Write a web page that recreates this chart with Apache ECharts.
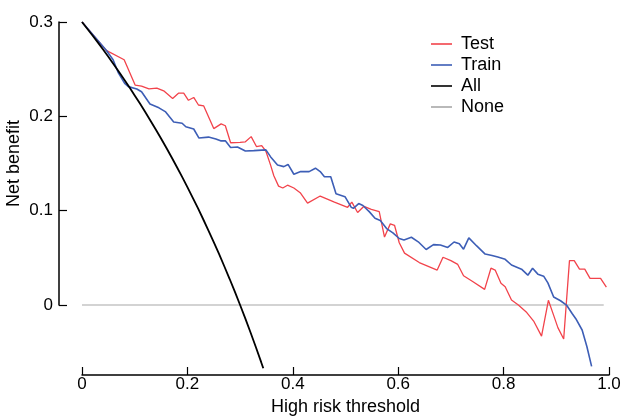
<!DOCTYPE html>
<html>
<head>
<meta charset="utf-8">
<script src="https://cdn.jsdelivr.net/npm/echarts@6/dist/echarts.min.js"></script>
<style>
html,body{margin:0;padding:0;background:#fff;}
#chart{width:623px;height:417px;}
</style>
</head>
<body>
<div id="chart"></div>
<script>
// Series names (legend order)
const seriesNames = ['Test', 'Train', 'All', 'None'];

// Tick labels
const xTickLabels = ['0', '0.2', '0.4', '0.6', '0.8', '1.0'];
const yTickLabels = ['0', '0.1', '0.2', '0.3'];

// Test curve: [threshold, net benefit]
const testPoints = [
  [0, 0.300], [0.046, 0.270], [0.080, 0.260], [0.101, 0.233], [0.113, 0.232],
  [0.127, 0.229], [0.142, 0.230], [0.155, 0.227], [0.172, 0.219], [0.183, 0.2245],
  [0.193, 0.2245], [0.202, 0.217], [0.212, 0.220], [0.221, 0.212], [0.231, 0.211],
  [0.250, 0.187], [0.264, 0.192], [0.272, 0.190], [0.282, 0.172], [0.300, 0.1725],
  [0.310, 0.173], [0.321, 0.1785], [0.331, 0.168], [0.341, 0.169], [0.349, 0.163],
  [0.358, 0.148], [0.364, 0.137], [0.373, 0.126], [0.381, 0.124], [0.390, 0.127],
  [0.402, 0.124], [0.414, 0.119], [0.428, 0.108], [0.452, 0.1155], [0.479, 0.1090],
  [0.504, 0.1036], [0.512, 0.109], [0.523, 0.098], [0.535, 0.1046], [0.549, 0.1014],
  [0.564, 0.099], [0.574, 0.072], [0.585, 0.086], [0.593, 0.0845], [0.602, 0.066],
  [0.612, 0.055], [0.640, 0.045], [0.674, 0.037], [0.685, 0.0506], [0.700, 0.047],
  [0.713, 0.043], [0.724, 0.031], [0.742, 0.0247], [0.764, 0.0166], [0.776, 0.039],
  [0.784, 0.037], [0.795, 0.023], [0.803, 0.0194], [0.815, 0.0053], [0.828, 0.0],
  [0.844, -0.008], [0.857, -0.017], [0.872, -0.033], [0.885, 0.005], [0.895, -0.011],
  [0.903, -0.024], [0.914, -0.036], [0.925, 0.047], [0.934, 0.047], [0.944, 0.038],
  [0.954, 0.038], [0.964, 0.0283], [0.984, 0.0283], [0.995, 0.019]
];

// Train curve: [threshold, net benefit]
const trainPoints = [
  [0, 0.300], [0.046, 0.270], [0.059, 0.260], [0.069, 0.246], [0.081, 0.235],
  [0.088, 0.2315], [0.104, 0.229], [0.113, 0.226], [0.129, 0.213], [0.146, 0.209],
  [0.158, 0.205], [0.174, 0.194], [0.190, 0.1927], [0.197, 0.189], [0.212, 0.1866],
  [0.222, 0.177], [0.240, 0.178], [0.254, 0.176], [0.263, 0.174], [0.272, 0.174],
  [0.282, 0.167], [0.295, 0.1675], [0.310, 0.1633], [0.326, 0.1636], [0.349, 0.1644],
  [0.358, 0.157], [0.371, 0.1485], [0.383, 0.1467], [0.391, 0.149], [0.402, 0.1386],
  [0.415, 0.1414], [0.431, 0.1414], [0.443, 0.145], [0.452, 0.1414], [0.460, 0.136],
  [0.472, 0.136], [0.482, 0.118], [0.499, 0.1148], [0.511, 0.1035], [0.515, 0.1025],
  [0.525, 0.1075], [0.533, 0.1055], [0.545, 0.099], [0.556, 0.092], [0.566, 0.0895],
  [0.578, 0.081], [0.590, 0.0765], [0.602, 0.0705], [0.611, 0.069], [0.625, 0.0718],
  [0.638, 0.067], [0.653, 0.0588], [0.667, 0.064], [0.680, 0.0636], [0.694, 0.061],
  [0.706, 0.0668], [0.716, 0.065], [0.724, 0.0592], [0.734, 0.0712], [0.749, 0.0626],
  [0.765, 0.054], [0.778, 0.0525], [0.789, 0.0508], [0.803, 0.0484], [0.815, 0.0424],
  [0.834, 0.038], [0.846, 0.0316], [0.855, 0.0389], [0.865, 0.0327], [0.876, 0.0306],
  [0.884, 0.0235], [0.895, 0.0085], [0.908, 0.0045], [0.920, -0.0005], [0.930, -0.009],
  [0.937, -0.0145], [0.949, -0.0265], [0.958, -0.044], [0.967, -0.065]
];

// Treat-all curve: [threshold, net benefit]
const allPoints = [
  [0.00, 0.3000], [0.01, 0.2929], [0.02, 0.2857], [0.03, 0.2784], [0.04, 0.2708],
  [0.05, 0.2632], [0.06, 0.2553], [0.07, 0.2473], [0.08, 0.2391], [0.09, 0.2308],
  [0.10, 0.2222], [0.11, 0.2135], [0.12, 0.2045], [0.13, 0.1954], [0.14, 0.1860],
  [0.15, 0.1765], [0.16, 0.1667], [0.17, 0.1566], [0.18, 0.1463], [0.19, 0.1358],
  [0.20, 0.1250], [0.21, 0.1139], [0.22, 0.1026], [0.23, 0.0909], [0.24, 0.0789],
  [0.25, 0.0667], [0.26, 0.0541], [0.27, 0.0411], [0.28, 0.0278], [0.29, 0.0141],
  [0.30, 0.0000], [0.31, -0.0145], [0.32, -0.0294], [0.33, -0.0448], [0.34, -0.0606],
  [0.344, -0.0671]
];

// Treat-none line
const nonePoints = [[0, 0], [0.99, 0]];

const colors = ['#F2434B', '#3D5EB6', '#000000', '#A8A8A8'];
const widths = [1.3, 1.6, 1.8, 1.2];
const dataSets = [testPoints, trainPoints, allPoints, nonePoints];

const chart = echarts.init(document.getElementById('chart'), null, {renderer: 'canvas'});
const FONT = 'Liberation Sans';

const option = {
  animation: false,
  backgroundColor: '#ffffff',
  textStyle: {fontFamily: FONT},
  legend: {
    orient: 'vertical',
    left: 431,
    top: 35,
    padding: 0,
    icon: 'rect',
    itemWidth: 21,
    itemHeight: 1.6,
    itemGap: 3,
    data: seriesNames,
    textStyle: {fontFamily: FONT, fontSize: 18, color: '#000', lineHeight: 18, padding: [0, 0, 0, 4]}
  },
  grid: [
    {left: 82, right: 14, top: 22, bottom: 42, containLabel: false, outerBoundsMode: 'none'},
    {left: 59, width: 1, top: 22, height: 283, containLabel: false, outerBoundsMode: 'none'}
  ],
  xAxis: [
    {
      type: 'value', gridIndex: 0, min: 0, max: 1, interval: 0.2,
      name: 'High risk threshold', nameLocation: 'middle', nameGap: 22,
      nameTextStyle: {fontFamily: FONT, fontSize: 18, color: '#000'},
      axisLine: {show: true, onZero: false, lineStyle: {color: '#000', width: 1.5}},
      axisTick: {show: true, inside: true, length: 8, lineStyle: {color: '#000', width: 1.2}},
      axisLabel: {fontFamily: FONT, fontSize: 17, color: '#000', margin: 1,
        formatter: (v) => xTickLabels[Math.round(v / 0.2)]},
      splitLine: {show: false}
    },
    {type: 'value', gridIndex: 1, show: false, min: 0, max: 1}
  ],
  yAxis: [
    {type: 'value', gridIndex: 0, show: false, min: -0.0742, max: 0.3},
    {
      type: 'value', gridIndex: 1, min: 0, max: 0.3, interval: 0.1,
      name: 'Net benefit', nameLocation: 'middle', nameGap: 36,
      nameTextStyle: {fontFamily: FONT, fontSize: 18, color: '#000'},
      axisLine: {show: true, lineStyle: {color: '#000', width: 1.5}},
      axisTick: {show: true, inside: true, length: 8, lineStyle: {color: '#000', width: 1.2}},
      axisLabel: {fontFamily: FONT, fontSize: 17, color: '#000', margin: 6,
        formatter: (v) => yTickLabels[Math.round(v / 0.1)]},
      splitLine: {show: false}
    }
  ],
  series: seriesNames.map((name, i) => ({
    name: name,
    type: 'line',
    xAxisIndex: 0,
    yAxisIndex: 0,
    data: dataSets[i],
    symbol: 'none',
    smooth: false,
    z: [3, 4, 5, 2][i],
    itemStyle: {color: colors[i]},
    lineStyle: {color: colors[i], width: widths[i]}
  }))
};

chart.setOption(option);
</script>
</body>
</html>
